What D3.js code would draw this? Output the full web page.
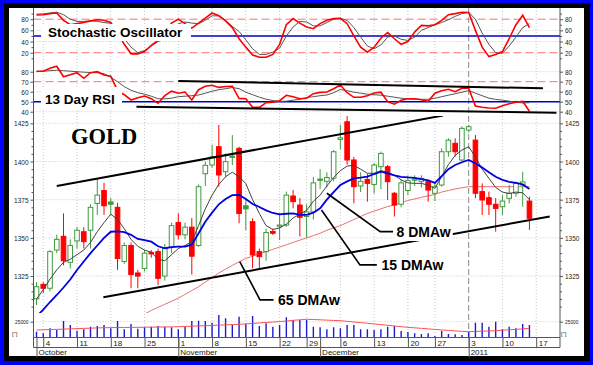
<!DOCTYPE html>
<html><head><meta charset="utf-8">
<script src="https://cdn.jsdelivr.net/npm/d3@7"></script>
<style>body{margin:0;background:#0000ff;overflow:hidden}svg{display:block}</style>
</head><body>
<svg id="c" width="593" height="365"></svg>
<script>
// ---------------- DATA ----------------
const open = [1310,1319.5,1317,1342,1351,1334,1348,1354,1355,1372.5,
 1381,1373.5,1370,1334.5,1345,1327,1330,1340.5,1341,1325,
 1344,1360,1352,1357,1345,1392,1397.7,1409.7,1393.3,1403.5,
 1408.6,1371,1360.6,1341,1341,1354.2,1357.8,1358.4,1377.4,1371.5,
 1364,1367,1388.5,1387,1389,1414.5,1426,1401,1384,1388.3,
 1385,1396.6,1396.6,1379.2,1372,1381,1388,1387,1386.8,1379.2,
 1384.6,1406.4,1411.9,1401,1420.6,1414,1380.3,1376.3,1372,1370.4,
 1375.9,1379.2,1384.6,1374.1];
const high = [1321,1321,1342,1352,1366,1349,1357,1357,1372,1389,
 1386,1376,1373,1347,1347,1329,1342,1342,1343,1346,
 1360,1366,1360,1363,1385,1400,1411,1424,1405.3,1417.3,
 1409.7,1376,1362.8,1343,1356,1356,1366,1380.3,1381.3,1376,
 1372,1390,1395,1393,1407.5,1424,1431,1403,1393,1392,
 1399,1406.5,1397.7,1380,1388,1391,1391,1391,1388,1386,
 1408.6,1415.2,1415.2,1423,1424,1417.3,1385.7,1380.3,1376,1378,
 1384.6,1386.8,1393.3,1377];
const low = [1306,1314,1315,1340,1332,1330,1343,1343,1343,1365,
 1365,1365,1329,1333,1317,1317,1328,1337,1319,1322,
 1340,1349,1349,1326,1344,1384,1396,1383.5,1390,1397.7,
 1359.5,1355,1330,1330,1335,1352,1348.6,1357.3,1369.3,1351,
 1350,1362,1382,1383,1387,1408,1398,1372.6,1380,1373.7,
 1379,1382,1374.8,1364,1370,1378,1384,1383,1373.7,1374,
 1383.5,1403.2,1403.2,1400,1419,1375.9,1365,1365,1354,1365,
 1372.6,1377,1370.4,1355.2];
const close = [1318,1317,1341,1349,1335,1345,1355,1347.5,1370,1378,
 1371,1372,1336.5,1345,1326,1325,1340,1339.5,1323.5,1343,
 1358,1352,1357,1338,1383.5,1397.5,1403,1391.2,1399.9,1403,
 1366,1369,1338.8,1337.7,1353.5,1353,1358.4,1378,1373.7,1363.5,
 1367,1386,1388,1389.5,1406.4,1415.5,1401,1383.5,1387,1385.7,
 1397.7,1405.3,1386.8,1371.5,1386,1387.5,1388.5,1389,1381.3,1383.5,
 1406.4,1414,1406.4,1421.7,1422.8,1379.2,1374.8,1372,1369.3,1374.1,
 1379.2,1385.7,1386.6,1362.8];
const dma8 = [1310,1316,1323,1329,1334,1336,1339,1342,1347,1354,
 1360,1365.5,1362,1356,1349,1344.5,1342,1340.5,1336,1335,
 1339,1343,1345,1347.5,1358,1369,1378,1385,1390,1393,
 1390,1385.5,1375,1366,1358,1355.5,1356.5,1359,1363,1365.5,
 1368,1374,1378,1384,1389.5,1394,1397,1397.5,1395,1392.3,
 1392.3,1394,1393,1391,1388,1386,1385.7,1385.7,1384.5,1382.4,
 1390,1398,1404,1407.5,1409.7,1403,1395,1389,1383,1380,
 1379,1380,1379.5,1375];
const dma15 = [1298.5,1303,1308,1312.6,1317.5,1322.7,1329,1334.5,1340,1345,
 1350,1354,1354.2,1353.8,1352,1349.3,1348.5,1347.5,1344.5,1343.2,
 1344,1344.3,1344.3,1345.5,1353,1360.6,1366.5,1372,1375.5,1378,
 1378.1,1375.5,1372.2,1370.2,1368,1366.3,1365.4,1365.8,1366,1365,
 1365,1366.5,1369.4,1375,1380,1384.6,1387,1389,1389.5,1390.1,
 1391.8,1393.3,1392.2,1391,1390,1389.6,1389.3,1388.5,1387.7,1386,
 1390.5,1395,1397.7,1399.5,1401,1398.8,1396,1393,1390,1388,
 1386.7,1386,1385,1382];
const dma65 = [null,null,null,null,null,null,null,null,null,null,
 null,null,null,null,null,null,1300,1302.5,1304.5,1306.5,
 1308.5,1310.5,1313,1315.5,1318,1321,1324,1327,1329.5,1332,
 1334.3,1336.5,1338,1339.5,1341,1342.5,1344,1345.5,1347,1348.5,
 1350,1351.5,1353,1355,1356.5,1358,1360,1362,1364,1366,
 1367.5,1369,1370.5,1371.5,1373,1374.5,1375.5,1376.5,1377.5,1378.5,
 1380,1381,1382,1382.8,1383.5,1383.5,1383.5,1383.5,1383.5,1383.5,
 1383.5,1383.5,1383.5,1383.5];
const volume = [9200,6600,14500,11900,26100,19800,10800,12900,17100,18200,
 19800,14500,26100,12900,21400,14000,16100,17100,18200,17100,
 16100,12900,17100,26100,26600,26100,23500,35600,30300,19800,
 33000,21400,34000,18200,22400,17100,19800,31900,27700,27700,
 27700,17100,16100,12900,16100,14500,19800,19800,12900,12900,
 11900,12900,17100,18200,10300,8700,6600,5500,6600,2400,
 10300,5500,5000,4000,9200,23500,23500,17100,25000,12900,
 17100,14500,21400,19800];
const volumeMA = [11900,12200,12500,12900,13300,13700,14000,14400,14800,15200,
 15500,15600,15800,15900,16000,16100,16200,16400,16500,16700,
 16800,17100,17500,17900,18300,18700,19100,19600,20000,20500,
 20900,21600,22300,23000,23800,24500,25200,26000,27200,28000,
 28800,28500,28000,27500,27000,26600,25600,24600,23600,22500,
 21400,20400,19300,18200,17100,16100,15300,14500,13600,12800,
 11900,11200,10500,9800,9200,9600,10000,10400,10800,11500,
 12200,12900,13700,14500];
const stochK = [87.5,88,90,91,78,70,72,74,77,79,
 78,74,55,35,18,18,22,33,42,55,
 73,80,72,64,73,82,91,86,77,65,
 45,30,16,12,12,17,35,70,81,73,
 66,63,72,78,81,81.6,72,50,30,21,
 30,46,56,45,35,40,57,69,68,70,
 78,88,90,92.3,92,60,30,13,17,22,
 45,70,87,65];
const stochD = [89,89.5,91,92.5,88,80,76,76,77,76,
 74,72.7,60,45,30,20,24,32,40,44,
 58,72,75,73,72,78,86,86,78,67,
 58,43,27,17,17,21,28,50,66,76,
 75,68,68,74,80,81.6,78,65,48,32,
 27,34,48,50,44,42,48,60,65,70,
 74,79,85,90,92.3,80,55,35,20,19,
 32,48,65,72];
const rsi = [80.5,80.5,83.5,85.5,75,77,79,73.4,79,80,
 76.7,75.5,61,57,51.7,54,55.7,53,48.4,56,
 60.5,58.4,59.7,51.7,62,65.5,66.5,64.3,65.2,65.5,
 53.3,53,44.5,44.3,49,49.6,51,56.4,55,53,
 53.5,58,59.3,59.7,63,66.7,59,54.4,54.4,56,
 58.7,59.5,50,47.5,51.5,53,53,52,50.4,58.5,
 61,62.4,60,63.4,63.4,45.7,44.5,43.7,43.4,46,
 48,49.5,50.4,40.5];
const rsiMA = [80,80.5,81,81.5,81,80.5,80,79.5,79.2,79,
 78,74.5,70,65,61.5,59,57.5,55.5,53,52.8,
 53.5,55,55.5,56,56.7,58.5,60.5,62,63,64.2,
 63,59.5,57,54.5,52.5,51.2,50.3,50.5,51.5,52.4,
 54.2,55,56,56.7,59,62.2,61,59.5,58.5,57.5,
 57,56.5,55.5,54.5,53.5,52.8,52.4,52.4,52.4,53.5,
 55,56.5,58,59.5,61,58.5,56,53.5,52.3,51.5,
 50.5,49.5,48.7,49];
// tick labels
const priceTicks = [1325,1350,1375,1400,1425];
const stochTicks = [20,40,60,80];
const rsiTicks = [40,50,60,70,80];
const volTicks = [25000];
const weekIdx = [1,6,11,16,21,26,31,36,40,45,50,55,59,64,69,74];
const weekLabels = ["4","11","18","25","1","8","15","22","29","6","13","20","27","3","10","17"];
const monthIdx = [0,21,42,64];
const monthLabels = ["October","November","December","2011"];
const yearIdx = 64;
// trend lines (day index, value)
const priceChannels = [[[3,1384],[60.2,1430.1]],[[9.9,1311.1],[76,1364]]];
const rsiChannels = [[[21,70.7],[75,63.4]],[[14.8,45],[77,39]]];

// ---------------- CHART ----------------
const svg = d3.select("#c");
const W=593,H=365;
svg.append("rect").attr("width",W).attr("height",H).attr("fill","#0000ff");
svg.append("rect").attr("x",4).attr("y",3).attr("width",586).attr("height",358).attr("fill","#000");
svg.append("rect").attr("x",9).attr("y",8).attr("width",575).attr("height",348).attr("fill","#fff");

const L=33.5, R=560;
const x = d3.scaleLinear().domain([0,74]).range([36.5,536.2]);
const yP = d3.scaleLinear().domain([1300.8,1429.8]).range([313,116]);
const yS = d3.scaleLinear().domain([0,100]).range([63.9,8]);
const yR = d3.scaleLinear().domain([35,88]).range([116.7,63.7]);
const yV = d3.scaleLinear().domain([0,25000]).range([337.5,321.7]);
const N = close.length;
const idx = d3.range(N);

const defs = svg.append("defs");
function clip(id,y0,y1){defs.append("clipPath").attr("id",id).append("rect").attr("x",L).attr("y",y0).attr("width",R-L).attr("height",y1-y0);}
clip("cp",116,313); clip("cs",8,64); clip("cr",64,116.5); clip("cv",313,337.5);

// vertical grid
const g0 = svg.append("g");
weekIdx.forEach(i=>{
  if(i===yearIdx) return;
  g0.append("line").attr("x1",x(i)).attr("x2",x(i)).attr("y1",8).attr("y2",337.5)
    .attr("stroke","#c8c8c8").attr("stroke-dasharray","1,2");
});
// horizontal grid
function hgrid(scale,vals){vals.forEach(v=>g0.append("line").attr("x1",L).attr("x2",R).attr("y1",scale(v)).attr("y2",scale(v)).attr("stroke","#c8c8c8").attr("stroke-dasharray","1,2"));}
hgrid(yP,priceTicks); hgrid(yS,[40,60]); hgrid(yR,[40,60,80]); hgrid(yV,volTicks);
g0.append("line").attr("x1",x(yearIdx)).attr("x2",x(yearIdx)).attr("y1",8).attr("y2",337.5)
  .attr("stroke","#8c8c8c").attr("stroke-dasharray","6,3");

// reference lines
function ref(scale,v,color,dash,w){svg.append("line").attr("x1",L).attr("x2",R).attr("y1",scale(v)).attr("y2",scale(v)).attr("stroke",color).attr("stroke-width",w).attr("stroke-dasharray",dash);}
ref(yS,80,"#ff7070","8,4",1); ref(yS,20,"#ff7070","8,4",1); ref(yS,50,"#0000c8",null,1.5);
ref(yR,70,"#ff7070","8,4",1); ref(yR,50,"#0000c8",null,1.5);

const line = (scale,arr)=> d3.line().defined(i=>arr[i]!=null).x(i=>x(i)).y(i=>scale(arr[i]));

// stochastic
const gs = svg.append("g").attr("clip-path","url(#cs)");
gs.append("path").attr("d",line(yS,stochD)(idx)).attr("fill","none").attr("stroke","#555").attr("stroke-width",1);
gs.append("path").attr("d",line(yS,stochK)(idx)).attr("fill","none").attr("stroke","#ff0000").attr("stroke-width",1.6);

// RSI
const gr = svg.append("g").attr("clip-path","url(#cr)");
gr.append("path").attr("d",line(yR,rsiMA)(idx)).attr("fill","none").attr("stroke","#555").attr("stroke-width",1);
gr.append("path").attr("d",line(yR,rsi)(idx)).attr("fill","none").attr("stroke","#ff0000").attr("stroke-width",1.6);
rsiChannels.forEach(c=>gr.append("line").attr("x1",x(c[0][0])).attr("y1",yR(c[0][1])).attr("x2",x(c[1][0])).attr("y2",yR(c[1][1])).attr("stroke","#000").attr("stroke-width",2));

// price panel
const gp = svg.append("g").attr("clip-path","url(#cp)");
gp.append("path").attr("d",line(yP,dma65)(idx)).attr("fill","none").attr("stroke","#e87070").attr("stroke-width",1);
const cw = 4.6;
idx.forEach(i=>{
  const up = i===0 ? close[i]>=open[i] : close[i]>=close[i-1];
  const col = up ? "#3f9a3f" : "#ff0000";
  const filled = close[i] < open[i];
  gp.append("line").attr("x1",x(i)).attr("x2",x(i)).attr("y1",yP(high[i])).attr("y2",yP(low[i])).attr("stroke",col).attr("stroke-width",1);
  const top = yP(Math.max(open[i],close[i])), bot = yP(Math.min(open[i],close[i]));
  gp.append("rect").attr("x",x(i)-cw/2).attr("y",top).attr("width",cw).attr("height",Math.max(1.2,bot-top))
    .attr("fill", filled ? col : "#fff").attr("stroke",col).attr("stroke-width",1);
});
gp.append("path").attr("d",line(yP,dma8)(idx)).attr("fill","none").attr("stroke","#404040").attr("stroke-width",1);
gp.append("path").attr("d",line(yP,dma15)(idx)).attr("fill","none").attr("stroke","#0000e0").attr("stroke-width",1.8);
priceChannels.forEach(c=>gp.append("line").attr("x1",x(c[0][0])).attr("y1",yP(c[0][1])).attr("x2",x(c[1][0])).attr("y2",yP(c[1][1])).attr("stroke","#000").attr("stroke-width",2));

// volume
const gv = svg.append("g").attr("clip-path","url(#cv)");
idx.forEach(i=>gv.append("line").attr("x1",x(i)).attr("x2",x(i)).attr("y1",yV(0)).attr("y2",yV(volume[i])).attr("stroke","#1a1ad0").attr("stroke-width",1.4));
gv.append("path").attr("d",line(yV,volumeMA)(idx)).attr("fill","none").attr("stroke","#ff5050").attr("stroke-width",1);

// annotations
function label(txt,xp,yb,size,fam,bg){
  const t = svg.append("text").attr("x",xp).attr("y",yb).attr("font-family",fam).attr("font-weight","bold").attr("font-size",size).attr("fill","#000").text(txt);
  if(bg){const b=t.node().getBBox(); svg.insert("rect",()=>t.node()).attr("x",b.x-bg[0]).attr("y",b.y-bg[1]).attr("width",b.width+2*bg[0]).attr("height",b.height+2*bg[1]).attr("fill","#fff");}
  return t;
}
function pointer(pts,scale){svg.append("path").attr("d",d3.line().x(p=>x(p[0])).y(p=>scale(p[1]))(pts)).attr("fill","none").attr("stroke","#000").attr("stroke-width",1.6);}
pointer([[43,1379.2],[50.9,1354.1],[52.8,1354.1]],yP);
pointer([[42.2,1368.3],[47.9,1332.3],[50.4,1332.3]],yP);
pointer([[30.1,1334.4],[33.1,1309.4],[35.1,1309.4]],yP);
label("8 DMAw",396.5,237,14,"Liberation Sans, Arial, sans-serif",[2,1]);
label("15 DMAw",381.5,270,14,"Liberation Sans, Arial, sans-serif",null);
label("65 DMAw",278,305,14,"Liberation Sans, Arial, sans-serif",null);
label("GOLD",71,143.5,22.5,"Liberation Serif, Times New Roman, serif",null);
// panel titles with white boxes
svg.append("rect").attr("x",41).attr("y",24).attr("width",150).attr("height",17).attr("fill","#fff");
label("Stochastic Oscillator",48,36.8,13.5,"Liberation Sans, Arial, sans-serif",null);
svg.append("rect").attr("x",41).attr("y",87).attr("width",81).attr("height",22).attr("fill","#fff");
label("13 Day RSI",45,104,13.5,"Liberation Sans, Arial, sans-serif",null);

// axes
const ax = svg.append("g").attr("font-family","Liberation Sans, Arial, sans-serif");
function axes(scale,vals,minor,fmt,fs){
  [["L",L],["R",R]].forEach(([s,pos])=>{
    const mk = s==="L"?d3.axisLeft:d3.axisRight;
    if(minor){ax.append("g").attr("transform",`translate(${pos},0)`).call(mk(scale).tickValues(minor).tickSize(2).tickFormat("")).call(g=>g.select(".domain").remove()).selectAll("line").attr("stroke","#555");}
    const g = ax.append("g").attr("transform",`translate(${pos},0)`).call(mk(scale).tickValues(vals).tickSize(3).tickPadding(2).tickFormat(fmt));
    g.select(".domain").remove();
    g.selectAll("line").attr("stroke","#555");
    g.selectAll("text").attr("font-size",fs).attr("fill","#222").attr("font-family","Liberation Sans, Arial, sans-serif")
      .attr("textLength",function(){return this.textContent.length*(fs*0.45);}).attr("lengthAdjust","spacingAndGlyphs");
  });
}
axes(yP,priceTicks,d3.range(1305,1430,5).filter(v=>v%25),d3.format("d"),8);
axes(yS,stochTicks,[10,30,50,70,90],d3.format("d"),8);
axes(yR,rsiTicks,null,d3.format("d"),8);
axes(yV,volTicks,null,d3.format("d"),6);
// volume unit marks
ax.append("text").attr("x",12).attr("y",336).attr("font-size",6).attr("fill","#333").text("[\u201d]");
ax.append("text").attr("x",561).attr("y",336).attr("font-size",6).attr("fill","#333").text("[\u201d]");

// axis frame lines
ax.append("line").attr("x1",L).attr("x2",L).attr("y1",8).attr("y2",347.5).attr("stroke","#555");
ax.append("line").attr("x1",R).attr("x2",R).attr("y1",8).attr("y2",347.5).attr("stroke","#555");
ax.append("line").attr("x1",L).attr("x2",R).attr("y1",337.5).attr("y2",337.5).attr("stroke","#555");
ax.append("line").attr("x1",L).attr("x2",R).attr("y1",347.5).attr("y2",347.5).attr("stroke","#555");

// date axis
const xa = d3.axisBottom(x).tickValues(weekIdx).tickSize(10).tickFormat((d,k)=>weekLabels[k]);
const gx = ax.append("g").attr("transform","translate(0,337.5)").call(xa);
gx.select(".domain").remove();
gx.selectAll("line").attr("stroke","#555");
gx.selectAll("text").attr("font-size",8).attr("fill","#222").attr("text-anchor","start").attr("x",2).attr("y",3.2).attr("dy","0.71em");
const ma = d3.axisBottom(x).tickValues(monthIdx).tickSize(20).tickFormat((d,k)=>monthLabels[k]);
const gm = ax.append("g").attr("transform","translate(0,337.5)").call(ma);
gm.select(".domain").remove();
gm.selectAll("line").attr("stroke","#555");
gm.selectAll("text").attr("font-size",8).attr("fill","#222").attr("text-anchor","start").attr("x",1.5).attr("y",12.3).attr("dy","0.71em");
</script>
</body></html>
